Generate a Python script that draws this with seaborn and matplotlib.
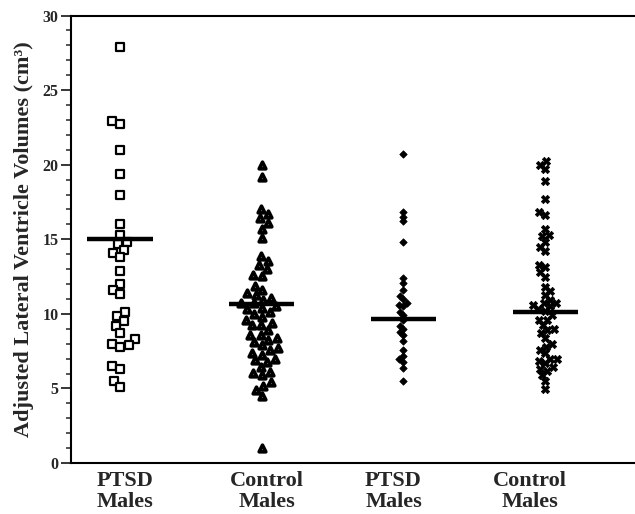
import numpy as np
import pandas as pd
import matplotlib
matplotlib.use("Agg")
import matplotlib.pyplot as plt
import seaborn as sns

# ---- data ----
group_ids = ["g1", "g2", "g3", "g4"]
tick_labels = ["PTSD\nMales", "Control\nMales", "PTSD\nMales", "Control\nMales"]

ptsd_a = [27.9, 22.9, 22.7, 21.0, 19.4, 18.0, 16.0, 15.3, 14.8, 14.7, 14.3, 14.1,
          13.8, 12.9, 12.0, 11.6, 11.3, 10.1, 9.85, 9.5, 9.2, 8.7, 8.3, 8.0, 7.9,
          7.8, 6.5, 6.3, 5.5, 5.1]
control_a = [19.95, 19.2, 17.05, 16.7, 16.4, 16.1, 15.7, 15.1, 13.85, 13.55, 13.25,
             13.0, 12.6, 12.55, 11.9, 11.6, 11.4, 11.25, 11.05, 10.95, 10.7, 10.7,
             10.5, 10.4, 10.3, 10.1, 10.0, 9.8, 9.6, 9.4, 9.25, 9.25, 8.9, 8.6,
             8.55, 8.4, 8.25, 8.1, 7.9, 7.7, 7.55, 7.4, 7.25, 7.0, 6.9, 6.8, 6.45,
             6.1, 6.05, 5.9, 5.4, 5.15, 4.9, 4.5, 1.0]
ptsd_b = [20.7, 16.8, 16.5, 16.2, 14.8, 12.4, 12.1, 11.6, 11.2, 11.0, 10.7, 10.6,
          10.5, 10.1, 9.9, 9.6, 9.2, 9.0, 8.8, 8.6, 8.2, 7.6, 7.2, 6.95, 6.8, 6.4, 5.5]
control_b = [20.25, 20.0, 19.7, 18.9, 17.7, 16.8, 16.6, 15.7, 15.3, 15.2, 14.8, 14.5,
             14.2, 13.3, 13.15, 12.8, 12.5, 11.8, 11.5, 11.25, 10.95, 10.7, 10.7,
             10.6, 10.5, 10.3, 10.2, 9.9, 9.6, 9.6, 9.25, 9.0, 8.9, 8.7, 8.35, 8.0,
             7.8, 7.6, 7.35, 7.0, 7.0, 6.85, 6.7, 6.45, 6.3, 6.2, 5.9, 5.5, 4.95]
group_means = [15.0, 10.65, 9.65, 10.15]

series = [ptsd_a, control_a, ptsd_b, control_b]

# ---- figure ----
sns.set_theme(style="ticks")
plt.rcParams["font.family"] = ["Liberation Serif", "DejaVu Serif"]
plt.rcParams["font.weight"] = "bold"

fig = plt.figure(figsize=(6.35, 5.14), dpi=100)
ax = fig.add_axes([0.1118, 0.0992, 0.8882, 0.8706])

styles = [
    dict(marker="s", color="white", edgecolor="black", linewidth=1.6, size=6.2),
    dict(marker="^", color="white", edgecolor="black", linewidth=2.6, size=4.8),
    dict(marker="D", color="black", edgecolor="black", linewidth=0.5, size=3.8),
    dict(marker="X", color="black", edgecolor="black", linewidth=0.5, size=6.0),
]

frames = []
for gid, vals in zip(group_ids, series):
    frames.append(pd.DataFrame({"group": gid, "value": vals}))
df = pd.concat(frames, ignore_index=True)

ax.set_xlim(-0.346, 3.634)
ax.set_ylim(0, 30)

placed = []
for gid, st in zip(group_ids, styles):
    sub = df[df["group"] == gid]
    n_before = len(ax.collections)
    # place points with a tight swarm, then draw them at full marker size
    sns.swarmplot(data=sub, x="group", y="value", order=group_ids, ax=ax,
                  marker=st["marker"], color=st["color"], edgecolor=st["edgecolor"],
                  linewidth=st["linewidth"], size=st["size"] * 0.7, zorder=3,
                  warn_thresh=1.0)
    for c in ax.collections[n_before:]:
        if len(c.get_offsets()) > 0:
            placed.append((c, st["size"]))

ax.set_xlim(-0.346, 3.634)
ax.set_ylim(0, 30)
fig.canvas.draw()  # computes the swarm layout with the small sizes
for c, sz in placed:
    if "draw" in c.__dict__:
        del c.__dict__["draw"]
    c.set_sizes([sz ** 2])

for i, m in enumerate(group_means):
    ax.hlines(m, i - 0.23, i + 0.23, color="black", linewidth=3.2, zorder=4)

ax.set_yticks(np.arange(0, 31, 5))
ax.set_yticks(np.arange(0, 31, 1), minor=True)
ax.set_xticks([0.035, 1.035, 1.93, 2.89])
ax.set_xticklabels(tick_labels, fontsize=16, fontweight="bold", linespacing=1.05)
ax.tick_params(axis="x", length=0, pad=6)
ax.tick_params(axis="y", which="major", length=7, width=1.3, labelsize=11.5, pad=2)
ax.tick_params(axis="y", which="minor", length=3.5, width=1.1)
for lab in ax.get_yticklabels():
    lab.set_fontweight("bold")

ax.set_xlabel("")
ax.set_ylabel("Adjusted Lateral Ventricle Volumes (cm³)", fontsize=16,
              fontweight="bold", labelpad=6)

ax.spines["right"].set_visible(False)
for s in ["left", "top", "bottom"]:
    ax.spines[s].set_linewidth(1.5)
    ax.spines[s].set_color("black")

fig.savefig("out.png", dpi=100)
